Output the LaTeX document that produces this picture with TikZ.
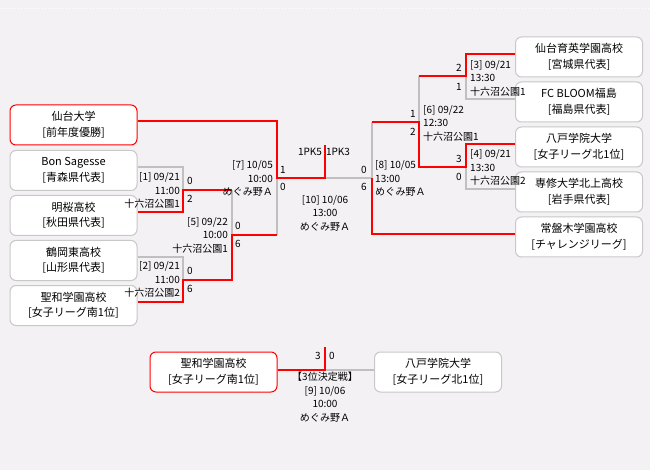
\documentclass[tikz,border=0pt]{standalone}
\usepackage{fontspec}
\setmainfont{Noto Sans CJK JP}
\usetikzlibrary{calc}
\definecolor{bgpaper}{RGB}{243,241,244}
\definecolor{winred}{RGB}{255,0,0}
\definecolor{losegray}{RGB}{192,192,192}
\definecolor{boxgray}{RGB}{200,200,200}
\tikzstyle{teambox}=[draw=boxgray,fill=white,line width=1pt,rounded corners=6pt,minimum width=127pt,minimum height=40pt,inner sep=0pt,align=center,font=\fontsize{11}{15.5}\selectfont]
\tikzstyle{champbox}=[teambox,draw=winred]
\tikzstyle{redline}=[draw=winred,line width=2pt]
\tikzstyle{grayline}=[draw=losegray,line width=2pt]
\tikzstyle{info}=[inner sep=0pt,font=\fontsize{10}{13.5}\selectfont]
\tikzstyle{score}=[inner sep=0pt,font=\fontsize{10}{12}\selectfont]
\tikzstyle{dotline}=[draw=white,line width=1pt,dotted]

\begin{document}
\begin{tikzpicture}[x=1pt,y=-1pt]
    \fill[bgpaper] (0,0) rectangle (650,470);
    \useasboundingbox (0,0) rectangle (650,470);
    \draw[dotline] (0,9) -- (650,9);

    \node[champbox] (sendai) at (73.5,125) {仙台大学\\{}[前年度優勝]};
    \node[teambox] (bon) at (73.5,170.5) {Bon Sagesse\\{}[青森県代表]};
    \node[teambox] (meio) at (73.5,215.5) {明桜高校\\{}[秋田県代表]};
    \node[teambox] (tsuruoka) at (73.5,260.5) {鶴岡東高校\\{}[山形県代表]};
    \node[teambox] (seiwa) at (73.5,305.5) {聖和学園高校\\{}[女子リーグ南1位]};

    \node[teambox] (ikuei) at (579,57) {仙台育英学園高校\\{}[宮城県代表]};
    \node[teambox] (fcb) at (579,102) {FC BLOOM福島\\{}[福島県代表]};
    \node[teambox] (hachinohe) at (579,147) {八戸学院大学\\{}[女子リーグ北1位]};
    \node[teambox] (senshu) at (579,192) {専修大学北上高校\\{}[岩手県代表]};
    \node[teambox] (tokiwagi) at (579,237) {常盤木学園高校\\{}[チャレンジリーグ]};

    \node[champbox] (seiwab) at (213.5,372) {聖和学園高校\\{}[女子リーグ南1位]};
    \node[teambox] (hachinoheb) at (438,372) {八戸学院大学\\{}[女子リーグ北1位]};

    \coordinate (j1) at (183,190);
    \coordinate (j2) at (183,280);
    \coordinate (j5) at (232,235);
    \coordinate (j7) at (277,178);
    \coordinate (fin) at (325,178);
    \coordinate (pk) at (325,145);
    \coordinate (j8) at (372,178);
    \coordinate (j6) at (419,122);
    \coordinate (j3) at (466,76.5);
    \coordinate (j4) at (466,167);
    \coordinate (third) at (325,370);
    \coordinate (thirdtop) at (325,347);

    \draw[grayline] ([yshift=3.5pt]bon.east) -| (j1);
    \draw[grayline] ([yshift=3.5pt]tsuruoka.east) -| (j2);
    \draw[grayline] (j5 |- j1) -- (j5);
    \draw[grayline] (j7 |- j5) -- (j7);
    \draw[grayline] (fin) -- (j8);
    \draw[grayline] (j8 |- j6) -- (j8);
    \draw[grayline] (j6 |- j3) -- (j6);
    \draw[grayline] ([yshift=2.5pt]fcb.west) -| (j3);
    \draw[grayline] ([yshift=2.5pt]senshu.west) -| (j4);
    \draw[grayline] (third) -- (hachinoheb.west |- third);

    \draw[redline] ([yshift=3.5pt]meio.east) -| (j1) -- (j5 |- j1);
    \draw[redline] ([yshift=3.5pt]seiwa.east) -| (j2) -| (j5) -- (j7 |- j5);
    \draw[redline] ([yshift=3.5pt]sendai.east) -| (j7) -- (fin) -- (pk);
    \draw[redline] ([yshift=2.5pt]ikuei.west) -| (j3) -- (j6 |- j3);
    \draw[redline] ([yshift=2.5pt]hachinohe.west) -| (j4) -| (j6) -- (j8 |- j6);
    \draw[redline] ([yshift=2.5pt]tokiwagi.west) -| (j8);
    \draw[redline] ([yshift=2pt]seiwab.east) -| (thirdtop);

    \node[info,anchor=east,align=right] (m1) at ($(j1)+(-3,0.5)$) {[1] 09/21\\11:00\\十六沼公園1};
    \node[info,anchor=east,align=right] (m2) at ($(j2)+(-3,-0.5)$) {[2] 09/21\\11:00\\十六沼公園2};
    \node[info,anchor=east,align=right] (m5) at ($(j5)+(-4,0)$) {[5] 09/22\\10:00\\十六沼公園1};
    \node[info,anchor=east,align=right] (m7) at ($(j7)+(-4,0.5)$) {[7] 10/05\\10:00\\めぐみ野Ａ};
    \node[info,align=center] (m10) at ($(fin)+(0,35)$) {[10] 10/06\\13:00\\めぐみ野Ａ};
    \node[info,anchor=west,align=left] (m8) at ($(j8)+(3,0.5)$) {[8] 10/05\\13:00\\めぐみ野Ａ};
    \node[info,anchor=west,align=left] (m6) at ($(j6)+(4,1)$) {[6] 09/22\\12:30\\十六沼公園1};
    \node[info,anchor=west,align=left] (m3) at ($(j3)+(4,1.5)$) {[3] 09/21\\13:30\\十六沼公園1};
    \node[info,anchor=west,align=left] (m4) at ($(j4)+(4,0.5)$) {[4] 09/21\\13:30\\十六沼公園2};
    \node[info,align=center] (m9) at ($(third)+(0,27)$) {【3位決定戦】\\{}[9] 10/06\\10:00\\めぐみ野Ａ};

    \node[score] (s1a) at ($(j1)+(7,-9)$) {0};
    \node[score] (s1b) at ($(j1)+(7,8.5)$) {2};
    \node[score] (s2a) at ($(j2)+(7,-9.5)$) {0};
    \node[score] (s2b) at ($(j2)+(7,8.5)$) {6};
    \node[score] (s5a) at ($(j5)+(6,-9.5)$) {0};
    \node[score] (s5b) at ($(j5)+(6,8.5)$) {6};
    \node[score] (s7a) at ($(j7)+(6,-8)$) {1};
    \node[score] (s7b) at ($(j7)+(6,9)$) {0};
    \node[score] (s8a) at ($(j8)+(-8,-8)$) {0};
    \node[score] (s8b) at ($(j8)+(-8,9)$) {6};
    \node[score] (s6a) at ($(j6)+(-6,-8.5)$) {1};
    \node[score] (s6b) at ($(j6)+(-6,9.5)$) {2};
    \node[score] (s3a) at ($(j3)+(-7,-8.5)$) {2};
    \node[score] (s3b) at ($(j3)+(-7,10.5)$) {1};
    \node[score] (s4a) at ($(j4)+(-7,-8.5)$) {3};
    \node[score] (s4b) at ($(j4)+(-7,9.5)$) {0};
    \node[score] (pkl) at ($(fin)+(-15,-26)$) {1PK5};
    \node[score] (pkr) at ($(fin)+(13,-26)$) {1PK3};
    \node[score] (s9a) at ($(third)+(-7,-14)$) {3};
    \node[score] (s9b) at ($(third)+(7,-14)$) {0};
\end{tikzpicture}
\end{document}
